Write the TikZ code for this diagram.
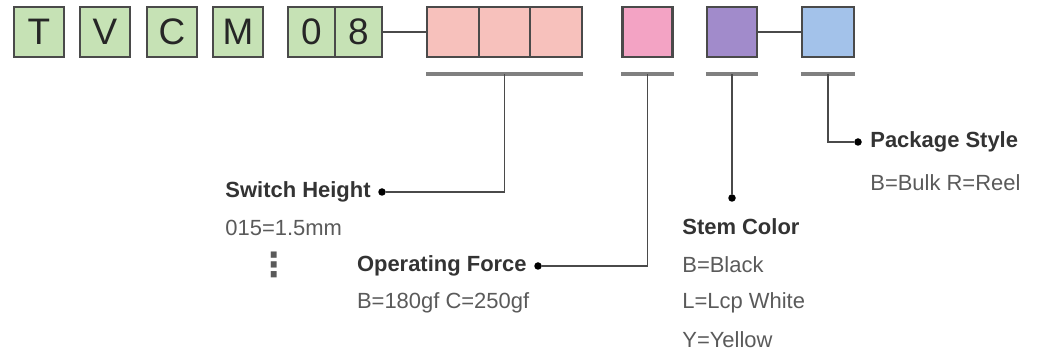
\documentclass[tikz,border=0pt]{standalone}
\usepackage{fontspec}
\setmainfont{Liberation Sans}
\newfontfamily\symbolfont{DejaVu Sans}
\usetikzlibrary{positioning,calc}
\definecolor{codegreen}{HTML}{C6E2B5}
\definecolor{codeedge}{HTML}{4A4A4A}
\definecolor{heightpink}{HTML}{F7C1BC}
\definecolor{forcepink}{HTML}{F3A3C4}
\definecolor{stempurple}{HTML}{A18BCB}
\definecolor{packblue}{HTML}{A3C2EA}
\definecolor{labeltext}{HTML}{333333}
\definecolor{valuetext}{HTML}{5A5A5A}

\begin{document}
\begin{tikzpicture}[x=0.02cm,y=-0.02cm,
    codebox/.style={draw=codeedge,line width=1.2pt,minimum width=1cm,minimum height=1cm,inner sep=0pt,
      font=\fontsize{21}{21}\selectfont,text=black!85},
    letterbox/.style={codebox,fill=codegreen},
    link/.style={draw=codeedge,line width=0.9pt},
    underline/.style={draw=black!50,line width=1.8pt},
    pin/.style={circle,fill=black,inner sep=0pt,minimum size=0.15cm},
    header/.style={anchor=west,inner sep=0pt,font=\fontsize{12.5}{12.5}\selectfont\bfseries,text=labeltext},
    value/.style={anchor=west,inner sep=0pt,font=\fontsize{12.5}{12.5}\selectfont,text=valuetext}]
    \useasboundingbox (0,0) rectangle (1049,357);

    % fixed part of the code
    \node[letterbox] (t) at (39,32) {T};
    \node[letterbox] (v) at (105,32) {V};
    \node[letterbox] (c) at (172,32) {C};
    \node[letterbox] (m) at (238,32) {M};
    \node[letterbox,minimum width=0.94cm] (n0) at (311.5,32) {0};
    \node[letterbox,minimum width=0.94cm] (n8) at (358.5,32) {8};

    % variable fields
    \node[codebox,fill=heightpink,minimum width=1.03cm] (h1) at (453,32) {};
    \node[codebox,fill=heightpink,minimum width=1.03cm] (h2) at (505,32) {};
    \node[codebox,fill=heightpink,minimum width=1.03cm] (h3) at (556,32) {};
    \node[codebox,fill=forcepink] (force) at (647.5,32) {};
    \node[codebox,fill=stempurple] (stem) at (732,32) {};
    \node[codebox,fill=packblue,minimum width=1.04cm] (pack) at (828,32) {};
    \draw[link] (n8.east) -- (h1.west);
    \draw[link] (stem.east) -- (pack.west);

    % underlines
    \draw[underline] ($(h1.south west)+(0,16)$) -- coordinate[midway] (uh) ($(h3.south east)+(0,16)$);
    \draw[underline] ($(force.south west)+(0,16)$) -- coordinate[midway] (uf) ($(force.south east)+(0,16)$);
    \draw[underline] ($(stem.south west)+(0,16)$) -- coordinate[midway] (us) ($(stem.south east)+(0,16)$);
    \draw[underline] ($(pack.south west)+(0,16)$) -- coordinate[midway] (up) ($(pack.south east)+(0,16)$);

    % switch height
    \node[pin] (dh) at (382,192) {};
    \node[header,anchor=east] (heighthead) at (371,192) {Switch Height};
    \node[value] (heightval) at (heighthead.west |- 0,228) {015=1.5mm};
    \node[inner sep=0pt,font=\symbolfont\fontsize{19}{19}\selectfont\bfseries,text=valuetext] (heightmore) at (274,265) {⋮};
    \draw[link] (uh) |- (dh);

    % operating force
    \node[pin] (df) at (538,266) {};
    \node[header,anchor=east] (forcehead) at (527,266) {Operating Force};
    \node[value] (forceval) at (forcehead.west |- 0,303) {B=180gf C=250gf};
    \draw[link] (uf) |- (df);

    % stem color
    \node[pin] (ds) at (732,198) {};
    \node[header] (stemhead) at (682,227) {Stem Color};
    \node[value] (stemb) at (682,265) {B=Black};
    \node[value] (steml) at (682,303) {L=Lcp White};
    \node[value] (stemy) at (682,340) {Y=Yellow};
    \draw[link] (us) -- (ds);

    % package style
    \node[pin] (dp) at (858,142) {};
    \node[header] (packhead) at (870,142) {Package Style};
    \node[value] (packval) at (870,183) {B=Bulk R=Reel};
    \draw[link] (up) |- (dp);
\end{tikzpicture}
\end{document}
